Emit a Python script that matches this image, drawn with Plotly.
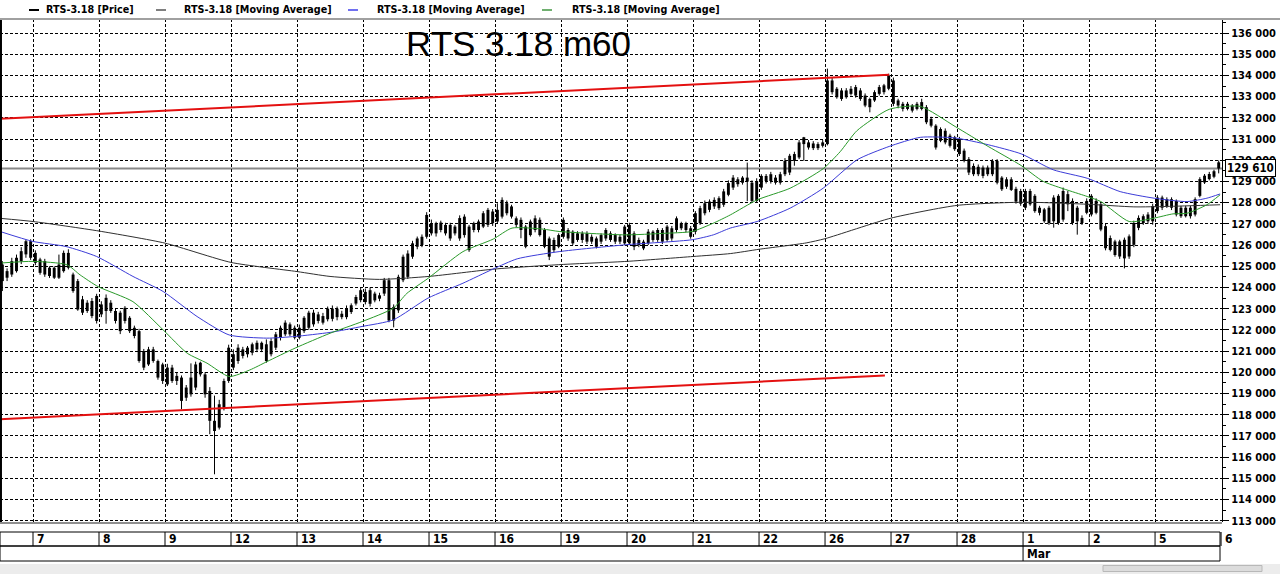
import plotly.graph_objects as go

# RTS-3.18, hourly bars (m60), 6 Feb - 6 Mar
day_labels = ["7", "8", "9", "12", "13", "14", "15", "16", "19", "20",
              "21", "22", "26", "27", "28", "1", "2", "5", "6"]
month_labels = {"1": "Mar"}
bars_per_day = 14
bars_before_first_label = 7

# OHLC, one row per trading day
open_ = [
    125080, 124770, 124610, 124770, 125240, 125560, 126180,
    125630, 125320, 125240, 124930, 124930, 124460, 124770, 124930, 124610, 124300, 123440, 123280, 123360, 122420,
    123200, 122890, 123280, 122890, 122810, 122420, 122570, 122100, 121940, 121000, 120370, 120530, 120530, 120370,
    120220, 119590, 119830, 119750, 119280, 118960, 119280, 119900, 119900, 119120, 117710, 117390, 118330, 119590,
    120850, 120530, 120770, 120850, 120920, 121080, 121390, 121320, 120850, 121160, 121630, 121790, 122260, 122100,
    122100, 121940, 122100, 122810, 122420, 122650, 122500, 123000, 122600, 122760, 122600, 122840, 123240, 123400,
    123790, 123230, 123710, 123470, 123710, 124340, 123080, 122920, 124340, 124500, 125450, 125920, 126390, 126390,
    127030, 126550, 127060, 126950, 126310, 126870, 126310, 127340, 126870, 126710, 126710, 126870, 127660, 127030,
    127660, 127340, 127970, 127340, 127260, 126710, 126870, 126470, 127260, 126470, 126710, 126310, 125760, 126470,
    126390, 126710, 126080, 126550, 126240, 126550, 126160, 126310, 126160, 126310, 126550, 126160, 126390, 126080,
    126950, 125920, 126240, 126160, 126080, 126630, 126240, 126710, 126240, 126790, 126710, 127030, 126710, 126790,
    126630, 127030, 127500, 128050, 127820, 128210, 127900, 128370, 128710, 129100, 128940, 129180, 128940, 128080,
    129260, 129020, 129340, 129180, 128940, 129340, 130210, 129970, 130130, 130760, 130840, 130570, 130760, 130680,
    130760, 133760, 133370, 132890, 133290, 133130, 133450, 133290, 133050, 132500, 132820, 133130, 133530, 133370,
    133760, 132580, 132660, 132420, 132580, 132420, 132420, 132500, 131950, 131630, 130920, 131390, 130680, 131080,
    131000, 130450, 130050, 129340, 129690, 129260, 129650, 129340, 129970, 128630, 129100, 128600, 128650, 127950,
    128550, 127920, 128320, 127520, 127680, 127040, 127120, 128320, 127200, 128400, 128080, 127120, 127280, 127520,
    128320, 127520, 127920, 126890, 126330, 126170, 125460, 126250, 125460, 126010, 126810, 127360, 127120, 127120,
    128240, 127760, 128160, 127760, 128080, 127360, 127760, 127360, 127440, 128320, 128950, 129350, 129220, 129900,
]
high = [
    125240, 124900, 125400, 125550, 125900, 126250, 126270,
    125750, 125400, 125350, 125000, 125000, 125550, 125740, 125800, 124700, 124400, 123600, 123400, 123500, 123700,
    123350, 123670, 123400, 123000, 122900, 123120, 122650, 122200, 122050, 121100, 121200, 121200, 120600, 120450,
    120400, 120350, 120000, 119850, 119400, 120420, 120500, 120500, 120000, 119300, 118900, 118700, 119700, 121300,
    121080, 121320, 121200, 121240, 121400, 121500, 121450, 121550, 121600, 121900, 122200, 122450, 122350, 122200,
    122250, 122650, 122900, 122950, 122850, 122800, 123100, 123150, 123100, 122900, 123150, 123250, 123650, 124000,
    123950, 124000, 123800, 123750, 124450, 124450, 123200, 124600, 125550, 125750, 126200, 126400, 126500, 127550,
    127200, 127100, 127150, 127050, 127050, 126950, 127400, 127450, 126950, 127100, 127200, 127600, 127750, 127700,
    127970, 128250, 128100, 127900, 127350, 127300, 126950, 127200, 127400, 127300, 126800, 126400, 126350, 126550,
    127300, 126800, 126700, 126650, 126650, 126650, 126500, 126400, 126550, 126800, 126650, 126550, 126500, 126950,
    127050, 126650, 126350, 126250, 126750, 126700, 126800, 126800, 126950, 126900, 127350, 127100, 127100, 126900,
    127600, 127850, 128100, 128150, 128250, 128300, 128650, 129050, 129300, 129200, 129250, 129890, 129050, 129150,
    129340, 129350, 129450, 129300, 129450, 130100, 130300, 130400, 130950, 131100, 130950, 130900, 130850, 130950,
    134320, 133900, 133450, 133400, 133400, 133500, 133550, 133400, 133150, 132950, 133300, 133550, 133600, 134080,
    133900, 132900, 132750, 132750, 132650, 132750, 132900, 132600, 132050, 131700, 131550, 131500, 131250, 131150,
    131100, 130550, 130150, 129850, 129800, 129750, 129750, 130050, 130050, 129250, 129200, 129200, 128750, 128650,
    128650, 128650, 128400, 127850, 127750, 127850, 128350, 128400, 128710, 128550, 128200, 127850, 127400, 128200,
    128400, 128200, 128000, 127000, 126450, 126250, 126250, 126350, 126500, 127150, 127400, 127450, 127550, 127950,
    128350, 128330, 128250, 128250, 128150, 127850, 127850, 127850, 128250, 129200, 129350, 129450, 129550, 129990,
]
low = [
    123830, 124300, 124500, 124700, 125100, 125400, 125300,
    125050, 124600, 124500, 124450, 124400, 124400, 124700, 124850, 123750, 122900, 122700, 122800, 122550, 122300,
    122600, 122290, 122800, 122300, 121800, 122300, 121850, 121600, 120450, 120100, 120300, 120450, 119650, 119450,
    119350, 119500, 119400, 118260, 118650, 118850, 119150, 119800, 118800, 117080, 115190, 117300, 118200, 119500,
    120100, 120400, 120650, 120700, 120800, 120950, 120950, 120450, 120750, 121050, 121500, 121700, 121700, 121550,
    121550, 121850, 122000, 122150, 122300, 122250, 122400, 122400, 122450, 122500, 122500, 122750, 123150, 123300,
    123200, 123100, 123300, 123350, 123600, 122360, 122120, 122800, 124250, 124400, 125350, 125800, 125900, 126300,
    126450, 126400, 126600, 126450, 126200, 126450, 126200, 126350, 125680, 126600, 126600, 126800, 126850, 126900,
    127000, 127250, 127400, 127250, 126850, 126320, 125850, 126400, 126600, 126400, 125850, 125290, 125650, 125850,
    126300, 126200, 126000, 126150, 126100, 126050, 126050, 125840, 126050, 126200, 126150, 126050, 126050, 126000,
    126000, 125760, 125900, 125760, 126000, 126150, 126150, 126050, 126150, 126200, 126600, 126700, 126600, 126300,
    126500, 126950, 127400, 127550, 127700, 127650, 127800, 128300, 128600, 128750, 128850, 128070, 128000, 127990,
    128600, 128900, 128900, 128850, 128850, 129250, 129300, 129740, 130050, 129970, 130500, 130480, 130480, 130600,
    130700, 133100, 132900, 132800, 132900, 133050, 132950, 132800, 132500, 132260, 132750, 133050, 133100, 133300,
    132550, 132450, 132300, 132350, 132250, 132350, 132350, 131700, 131550, 130500, 130850, 130750, 130600, 130440,
    130200, 129900, 129300, 129250, 129250, 129150, 129250, 129250, 128860, 128550, 128650, 128550, 127950, 127850,
    127650, 127850, 127520, 127400, 127050, 126950, 126820, 126950, 127100, 127600, 126950, 126490, 126950, 127450,
    127350, 127450, 126650, 125750, 125700, 125450, 125350, 124900, 125350, 125900, 126700, 126950, 127000, 126960,
    127500, 127650, 127750, 127650, 127350, 127280, 127300, 127250, 127350, 128250, 128880, 129050, 129150, 129380,
]
close = [
    124300, 124460, 125240, 125400, 125710, 126180, 125400,
    125160, 124690, 124610, 124540, 124460, 125080, 125630, 125630, 123830, 122960, 122810, 122890, 122650, 123600,
    122730, 123510, 122890, 122420, 121940, 123040, 121940, 121710, 120530, 120220, 121080, 121080, 119750, 119590,
    119430, 120220, 119590, 118650, 118800, 119750, 120370, 120450, 118960, 117710, 117230, 118490, 119590, 121160,
    120220, 121160, 121080, 121160, 121320, 121390, 121080, 120530, 121470, 121790, 122100, 122340, 121790, 121630,
    121630, 122570, 122810, 122260, 122730, 122340, 123000, 122520, 123000, 122600, 123000, 123160, 123550, 123870,
    123310, 123870, 123390, 123630, 124340, 122440, 122440, 124500, 125450, 125600, 126080, 126310, 126000, 127420,
    126550, 127030, 126710, 126550, 126950, 126550, 127270, 126470, 125760, 127030, 127110, 127500, 126950, 127580,
    127110, 128130, 127500, 127820, 126950, 127190, 125920, 127110, 126710, 127190, 125920, 125450, 126240, 125920,
    127190, 126310, 126630, 126240, 126550, 126160, 126390, 125920, 126470, 126710, 126240, 126470, 126160, 126870,
    126080, 126550, 126000, 125840, 126630, 126240, 126710, 126160, 126870, 126310, 127260, 126790, 127030, 126390,
    127500, 127740, 127970, 127660, 128130, 127740, 128530, 128920, 129180, 128870, 129180, 128990, 128080, 129020,
    128710, 129260, 129020, 128940, 129340, 129970, 129420, 130290, 130840, 131080, 130600, 130790, 130570, 130840,
    133760, 133210, 132970, 133290, 132970, 133370, 133050, 132890, 132580, 132890, 133210, 133450, 133210, 134000,
    132660, 132820, 132420, 132660, 132340, 132660, 132740, 131790, 131630, 130600, 131470, 130840, 131160, 130520,
    130290, 129970, 129420, 129730, 129340, 129650, 129340, 129970, 128940, 129180, 128750, 129100, 128050, 128550,
    127760, 128550, 127600, 127760, 127120, 127760, 128240, 127040, 128550, 127920, 127040, 127760, 127040, 128080,
    127440, 128080, 126730, 125850, 125770, 125530, 126170, 125370, 126410, 127040, 127280, 127040, 127440, 127840,
    127600, 128240, 127840, 128160, 127440, 127760, 127360, 127760, 128160, 129110, 129270, 129110, 129480, 129610,
]

# moving averages, read at sample bars (bar index, value)
ma_slow_x = [-0.5, 6.5, 20.5, 34.5, 48.5, 62.5, 69.5, 80, 90.5, 104.5, 118.5, 132.5, 146.5,
             154.5, 160.5, 170.5, 174.5, 188.5, 202.5, 216.5, 230.5, 240, 247, 258.3]
ma_slow_y = [127260, 127110, 126660, 126090, 125180, 124750, 124520, 124380, 124520, 124870, 125080, 125230, 125460,
             125600, 125800, 126100, 126300, 127270, 127870, 128020, 127920, 127800, 127820, 127900]

ma_mid_x = [-0.5, 6.5, 13.5, 20.0, 27.7, 34.1, 41.3, 48.1, 56.1, 62.1, 69.5, 76.3, 82.9, 90.3, 97.7, 104.1,
            109.2, 118.1, 132.1, 146.3, 150.8, 154.4, 160.1, 167.1, 174.1, 181.3, 188.1, 194.7, 202.1, 209.1,
            216.1, 222.9, 230.1, 237.1, 244.3, 251.3, 255.5, 258.3]
ma_mid_y = [126640, 126170, 125930, 125460, 124520, 123810, 122630, 121760, 121610, 121690, 121880, 122160, 122470,
            123500, 124200, 124870, 125350, 125690, 126010, 126250, 126480, 126800, 127110, 127740, 128680, 130020,
            130650, 131080, 131050, 130730, 130300, 129550, 129150, 128520, 128210, 128050, 128210, 128410]

ma_fast_x = [-0.5, 6.5, 13.7, 16.5, 20.3, 27.7, 34.1, 39.2, 43.4, 48.1, 52.5, 56.1, 62.1, 69.5, 76.3, 82.9,
             85.8, 90.3, 97.7, 104.1, 108.1, 114.7, 118.1, 132.1, 140.1, 146.3, 150.8, 154.4, 160.1, 167.1,
             174.1, 177.7, 181.3, 188.1, 194.7, 202.1, 209.1, 216.1, 220.8, 230.1, 233.0, 239.0, 244.3, 248.3,
             251.3, 255.5, 258.3]
ma_fast_y = [125150, 125230, 125070, 124590, 124040, 123330, 122000, 120900, 120430, 119800, 120110, 120500, 121140,
             121840, 122390, 123020, 123720, 124430, 125690, 126280, 126800, 126750, 126640, 126480, 126550, 126640,
             127030, 127420, 128130, 128680, 129600, 130400, 131400, 132400, 132540, 131590, 130650, 129750, 129000,
             128290, 128050, 127110, 127270, 127470, 127500, 127900, 128370]

# hand-drawn trend lines
trend_top_x = [-0.5, 188.1]
trend_top_y = [131950, 134030]
trend_bottom_x = [-0.5, 187.2]
trend_bottom_y = [117790, 119850]

series_names = ["RTS-3.18 [Price]", "RTS-3.18 [Moving Average]",
                "RTS-3.18 [Moving Average]", "RTS-3.18 [Moving Average]"]
series_colors = ["#000000", "#7f7f7f", "#7070f0", "#70b070"]

UI_FONT = "DejaVu Sans Condensed"
W, H = 1280, 574
PLOT_L, PLOT_R, PLOT_T, PLOT_B = 0, 1222, 19, 522


def px_x(px):
    return (px - PLOT_L) / (PLOT_R - PLOT_L)


def px_y(py):
    return (PLOT_B - py) / (PLOT_B - PLOT_T)


idx = list(range(len(close)))
boundaries = [bars_before_first_label - 0.5 + bars_per_day * k for k in range(len(day_labels))]

fig = go.Figure()

# wicks
wx, wy = [], []
for i in idx:
    wx += [i, i, None]
    wy += [low[i], high[i], None]
fig.add_trace(go.Scatter(x=wx, y=wy, mode="lines", line=dict(color="black", width=1),
                         hoverinfo="skip"))
# bodies
fig.add_trace(go.Bar(
    x=idx,
    y=[abs(c - o) for o, c in zip(open_, close)],
    base=[min(o, c) for o, c in zip(open_, close)],
    width=0.62, marker=dict(color="black", line=dict(width=0)),
))

# moving averages
fig.add_trace(go.Scatter(x=ma_slow_x, y=ma_slow_y, mode="lines",
                         line=dict(color="#303030", width=1, shape="spline", smoothing=0.6)))
fig.add_trace(go.Scatter(x=ma_mid_x, y=ma_mid_y, mode="lines",
                         line=dict(color="#3c3cd8", width=1, shape="spline", smoothing=0.6)))
fig.add_trace(go.Scatter(x=ma_fast_x, y=ma_fast_y, mode="lines",
                         line=dict(color="#2a9a2a", width=1, shape="spline", smoothing=0.6)))

# trend lines
fig.add_trace(go.Scatter(x=trend_top_x, y=trend_top_y, mode="lines",
                         line=dict(color="#e41010", width=2)))
fig.add_trace(go.Scatter(x=trend_bottom_x, y=trend_bottom_y, mode="lines",
                         line=dict(color="#e41010", width=2)))

shapes = []
annotations = []

# last price line
shapes.append(dict(type="line", xref="paper", x0=0, x1=1, yref="y", y0=close[-1], y1=close[-1],
                   line=dict(color="#888888", width=2), layer="below"))
# plot frame: left, top, bottom
shapes.append(dict(type="line", xref="paper", x0=0.0008, x1=0.0008, yref="paper", y0=0, y1=1,
                   line=dict(color="black", width=2)))
shapes.append(dict(type="line", xref="paper", x0=0, x1=W / PLOT_R, yref="paper", y0=1, y1=1,
                   line=dict(color="#a0a0a0", width=2)))
shapes.append(dict(type="line", xref="paper", x0=0, x1=1, yref="paper", y0=-0.002, y1=-0.002,
                   line=dict(color="#909090", width=2)))

# date strip below the plot
row1_top, row1_bot, row2_bot = px_y(532), px_y(546), px_y(561)
shapes.append(dict(type="rect", xref="paper", x0=0, x1=px_x(1220), yref="paper", y0=row1_bot, y1=row1_top,
                   line=dict(color="black", width=1)))
shapes.append(dict(type="rect", xref="paper", x0=0, x1=px_x(1220), yref="paper", y0=row2_bot, y1=row1_bot,
                   line=dict(color="black", width=1)))
for b, lab in zip(boundaries, day_labels):
    shapes.append(dict(type="line", xref="x", x0=b, x1=b, yref="paper", y0=row1_bot, y1=row1_top,
                       line=dict(color="black", width=1)))
    annotations.append(dict(x=b, xref="x", y=px_y(539), yref="paper", text=lab, showarrow=False,
                            xanchor="left", yanchor="middle", xshift=2,
                            font=dict(family=UI_FONT, size=12, color="black", weight="bold")))
    if lab in month_labels:
        shapes.append(dict(type="line", xref="x", x0=b, x1=b, yref="paper", y0=row2_bot, y1=row1_bot,
                           line=dict(color="black", width=1)))
        annotations.append(dict(x=b, xref="x", y=px_y(553.5), yref="paper", text=month_labels[lab],
                                showarrow=False, xanchor="left", yanchor="middle", xshift=2,
                                font=dict(family=UI_FONT, size=12, color="black", weight="bold")))

# scrollbar
shapes.append(dict(type="rect", xref="paper", x0=0, x1=W / PLOT_R, yref="paper", y0=px_y(574), y1=px_y(564),
                   line=dict(width=0), fillcolor="#ececec", layer="below"))
shapes.append(dict(type="rect", xref="paper", x0=px_x(1103), x1=px_x(1262), yref="paper",
                   y0=px_y(571.5), y1=px_y(565.5), line=dict(color="#b8b8b8", width=1), fillcolor="#dcdcdc"))

# legend row
legend_marks = [29, 156, 348, 542]
legend_text_x = [46, 184, 377, 572]
for name, col, x0, tx in zip(series_names, series_colors, legend_marks, legend_text_x):
    shapes.append(dict(type="line", xref="paper", x0=px_x(x0), x1=px_x(x0 + 10), yref="paper",
                       y0=px_y(10), y1=px_y(10), line=dict(color=col, width=2)))
    annotations.append(dict(x=px_x(tx), xref="paper", y=px_y(9.5), yref="paper", text=name,
                            showarrow=False, xanchor="left", yanchor="middle", xshift=-2,
                            font=dict(family=UI_FONT, size=10.7, color="black", weight="bold")))

# title
annotations.append(dict(x=px_x(404), xref="paper", y=px_y(44), yref="paper", text="RTS 3.18 m60",
                        showarrow=False, xanchor="left", yanchor="middle",
                        font=dict(family="Liberation Sans", size=35, color="black")))

# last price box on the axis
annotations.append(dict(x=1, xref="paper", y=close[-1], yref="y", text=f"{close[-1]:,}".replace(",", " "),
                        showarrow=False, xanchor="left", yanchor="middle", xshift=3,
                        bgcolor="white", bordercolor="black", borderwidth=1, borderpad=1,
                        font=dict(family=UI_FONT, size=11.5, color="black", weight="bold")))

fig.update_layout(
    width=W, height=H,
    margin=dict(l=PLOT_L, r=W - PLOT_R, t=PLOT_T, b=H - PLOT_B),
    paper_bgcolor="white", plot_bgcolor="white",
    showlegend=False, separators=". ",
    shapes=shapes, annotations=annotations,
    xaxis=dict(range=[-0.5, 258.7], tickvals=boundaries, showticklabels=False, ticks="",
               showgrid=True, gridcolor="black", gridwidth=1, griddash="3px,2px",
               zeroline=False, showline=False),
    yaxis=dict(side="right", range=[112939, 136660], tick0=113000, dtick=1000, tickformat=",d",
               ticks="outside", ticklen=6, tickcolor="black", automargin=False,
               minor=dict(dtick=500, tick0=113000, ticks="outside", ticklen=3, tickcolor="black", showgrid=False),
               showline=True, linecolor="black", linewidth=1,
               showgrid=True, gridcolor="black", gridwidth=1, griddash="3px,2px", zeroline=False,
               tickfont=dict(family=UI_FONT, size=11, color="black", weight="bold")),
)

# page body margin off so the figure sits at the window's top-left corner
fig.write_html("out.html", config={"displayModeBar": False},
               post_script="document.body.style.margin='0';")
